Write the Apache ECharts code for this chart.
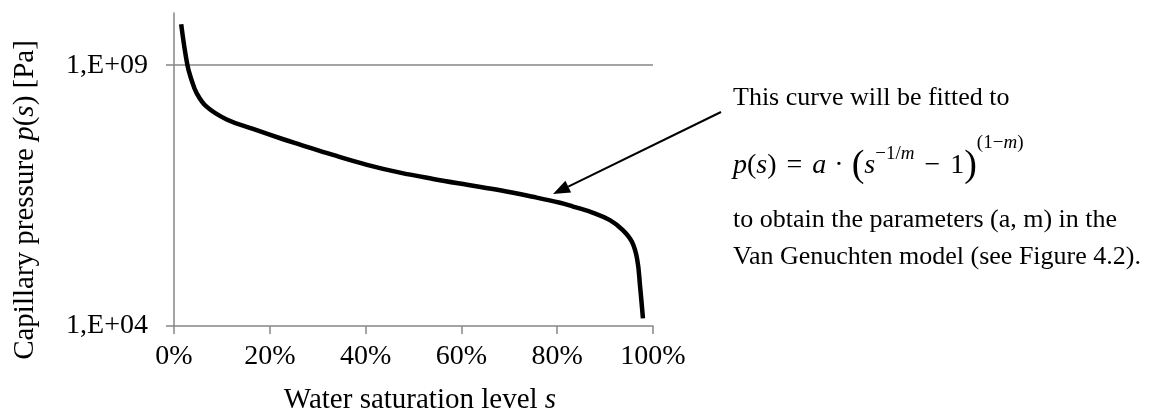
<!DOCTYPE html>
<html>
<head>
<meta charset="utf-8">
<script src="https://cdn.jsdelivr.net/npm/echarts@6/dist/echarts.min.js"></script>
<style>
  html, body { margin: 0; padding: 0; background: #ffffff; }
  #chart { width: 1154px; height: 416px; }
</style>
</head>
<body>
<div id="chart"></div>
<script>
// Retention curve: water saturation (fraction) vs capillary pressure (Pa)
const saturation = [0.015, 0.028, 0.037, 0.047, 0.068, 0.110, 0.165, 0.228, 0.263, 0.332,
                    0.403, 0.472, 0.541, 0.612, 0.681, 0.749, 0.806, 0.833, 0.875, 0.910,
                    0.937, 0.956, 0.967, 0.973, 0.979];
const pressurePa = [6.1e9, 1.0e9, 5.1e8, 2.95e8, 1.6e8, 9.1e7, 6.0e7, 3.8e7, 3.0e7, 1.9e7,
                    1.23e7, 8.7e6, 6.6e6, 5.1e6, 4.0e6, 3.0e6, 2.3e6, 1.95e6, 1.48e6, 1.07e6,
                    6.9e5, 4.1e5, 1.9e5, 5.8e4, 1.4e4];

// Axis ticks
const xTickValues = [0, 0.2, 0.4, 0.6, 0.8, 1.0];
const xTickLabels = ['0%', '20%', '40%', '60%', '80%', '100%'];
const yTickValues = [1e4, 1e9];
const yTickLabels = ['1,E+04', '1,E+09'];
const yGridValues = [1e9];

const SERIF = '"Liberation Serif", "Times New Roman", serif';
const AXIS_GRAY = '#868686';

const chart = echarts.init(document.getElementById('chart'), null, { renderer: 'canvas' });

function yLabel(v) {
  const i = yTickValues.findIndex(t => Math.abs(Math.log10(t) - Math.log10(v)) < 1e-6);
  return i >= 0 ? yTickLabels[i] : '';
}
function xLabel(v) {
  const i = xTickValues.findIndex(t => Math.abs(t - v) < 1e-9);
  return i >= 0 ? xTickLabels[i] : '';
}

// Arrow pointing at the curve
const arrowStart = [721, 112];
const arrowTip = [553, 194];
const dx = arrowTip[0] - arrowStart[0], dy = arrowTip[1] - arrowStart[1];
const len = Math.hypot(dx, dy);
const ux = dx / len, uy = dy / len;
const headLen = 17, headHalf = 6.5;
const base = [arrowTip[0] - ux * headLen, arrowTip[1] - uy * headLen];
const head = [
  arrowTip,
  [base[0] - uy * headHalf, base[1] + ux * headHalf],
  [base[0] + uy * headHalf, base[1] - ux * headHalf]
];

const textBase = { fontFamily: SERIF, fill: '#000' };

// Formula text styles
const FS = 28;
const formulaRich = {
  r:   { fontFamily: SERIF, fontSize: FS },
  i:   { fontFamily: SERIF, fontSize: FS, fontStyle: 'italic' },
  op:  { fontFamily: SERIF, fontSize: FS, padding: [0, 10, 0, 10] },
  dot: { fontFamily: SERIF, fontSize: FS, padding: [0, 8, 0, 8] },
  bp:  { fontFamily: SERIF, fontSize: 38 },
  s1:  { fontFamily: SERIF, fontSize: 19, padding: [0, 0, 24, 0] },
  s1i: { fontFamily: SERIF, fontSize: 19, fontStyle: 'italic', padding: [0, 0, 24, 0] },
  s2:  { fontFamily: SERIF, fontSize: 19, padding: [0, 0, 46, 0] },
  s2i: { fontFamily: SERIF, fontSize: 19, fontStyle: 'italic', padding: [0, 0, 46, 0] }
};

const option = {
  animation: false,
  backgroundColor: '#ffffff',
  grid: { left: 174, right: 501, top: 13, bottom: 90, containLabel: false },
  xAxis: {
    type: 'value',
    min: 0, max: 1, interval: 0.2,
    axisLine: { show: true, onZero: false, lineStyle: { color: AXIS_GRAY, width: 1.5 } },
    axisTick: { show: true, inside: false, length: 8, lineStyle: { color: AXIS_GRAY, width: 1.5 } },
    splitLine: { show: false },
    axisLabel: { formatter: xLabel, fontFamily: SERIF, fontSize: 28, color: '#000', margin: 17 }
  },
  yAxis: {
    type: 'log', logBase: 10,
    min: 1e4, max: 1e10,
    axisLine: { show: true, lineStyle: { color: AXIS_GRAY, width: 1.5 } },
    axisTick: { show: true, inside: false, length: 8, customValues: yTickValues,
                lineStyle: { color: AXIS_GRAY, width: 1.5 } },
    splitLine: { show: false },
    minorTick: { show: false },
    axisLabel: { customValues: yTickValues, formatter: yLabel, fontFamily: SERIF,
                 fontSize: 28, color: '#000', margin: 26 }
  },
  series: [{
    type: 'line',
    data: saturation.map((s, i) => [s, pressurePa[i]]),
    smooth: 0.4,
    showSymbol: false,
    symbol: 'none',
    lineStyle: { color: '#000', width: 4.5, cap: 'butt' },
    z: 3,
    markLine: {
      silent: true, z: 1, symbol: 'none',
      label: { show: false },
      lineStyle: { color: AXIS_GRAY, width: 1.5, type: 'solid' },
      data: yGridValues.map(v => ({ yAxis: v }))
    }
  }],
  graphic: [
    // y-axis title
    {
      type: 'text', x: 25, y: 200, rotation: Math.PI / 2,
      style: Object.assign({}, textBase, {
        text: 'Capillary pressure {i|p}({i|s}) [Pa]',
        fontSize: 29, align: 'center', verticalAlign: 'middle',
        rich: { i: { fontFamily: SERIF, fontSize: 29, fontStyle: 'italic' } }
      })
    },
    // x-axis title
    {
      type: 'text', x: 420, y: 400,
      style: Object.assign({}, textBase, {
        text: 'Water saturation level {i|s}',
        fontSize: 29, align: 'center', verticalAlign: 'middle',
        rich: { i: { fontFamily: SERIF, fontSize: 29, fontStyle: 'italic' } }
      })
    },
    // arrow
    {
      type: 'line',
      shape: { x1: arrowStart[0], y1: arrowStart[1], x2: base[0], y2: base[1] },
      style: { stroke: '#000', lineWidth: 2 }
    },
    {
      type: 'polygon',
      shape: { points: head },
      style: { fill: '#000' }
    },
    // annotation
    {
      type: 'text', x: 733, y: 98,
      style: Object.assign({}, textBase, {
        text: 'This curve will be fitted to', fontSize: 26, verticalAlign: 'middle'
      })
    },
    {
      type: 'text', x: 733, y: 166,
      style: Object.assign({}, textBase, {
        text: '{i|p}{r|(}{i|s}{r|)}{op|=}{i|a}{dot|·}{bp|(}{i|s}{s1|−1/}{s1i|m}{op|−}{r|1}{bp|)}{s2|(1−}{s2i|m}{s2|)}',
        fontSize: FS, verticalAlign: 'middle',
        rich: formulaRich
      })
    },
    {
      type: 'text', x: 733, y: 220,
      style: Object.assign({}, textBase, {
        text: 'to obtain the parameters (a, m) in the', fontSize: 26, verticalAlign: 'middle'
      })
    },
    {
      type: 'text', x: 733, y: 257,
      style: Object.assign({}, textBase, {
        text: 'Van Genuchten model (see Figure 4.2).', fontSize: 26, verticalAlign: 'middle'
      })
    }
  ]
};

chart.setOption(option);
</script>
</body>
</html>
